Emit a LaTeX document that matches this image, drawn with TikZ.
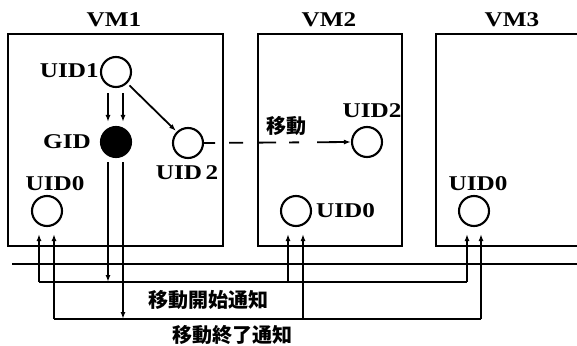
\documentclass[tikz,border=0pt]{standalone}
\usepackage{fontspec}
\setmainfont{Liberation Serif}
\newfontfamily\labfont[FakeStretch=1.2]{Liberation Serif Bold}
\newfontfamily\cjk{Noto Sans CJK JP}
\usetikzlibrary{arrows.meta,calc}
\begin{document}
\begin{tikzpicture}[x=1pt,y=-1pt,
  vmbox/.style={line width=2pt},
  ring/.style={circle, draw, line width=2.1pt, minimum size=30pt, inner sep=0pt},
  dot/.style={ring, fill=black},
  lab/.style={font=\labfont\fontsize{21}{24}\selectfont, inner sep=0pt},
  jp/.style={font=\cjk\bfseries\fontsize{20}{22}\selectfont, inner sep=0pt},
  arr/.style={-{Latex[length=7pt,width=5pt]}, line width=1.8pt},
  wire/.style={line width=1.8pt}]
\useasboundingbox (0,0) rectangle (577,345);

% boxes
\draw[vmbox] (8,34) rectangle (223,246);
\draw[vmbox] (258,34) rectangle (402,246);
\draw[vmbox] (577,34) -- (436,34) -- (436,246) -- (577,246);

% titles
\node[lab] (t1) at (114,20) {VM1};
\node[lab] (t2) at (329,20) {VM2};
\node[lab] (t3) at (512,20) {VM3};

% VM1
\node[ring] (u1) at (116,72) {};
\node[lab, anchor=east] (u1l) at (99,71) {UID1};
\node[dot] (gid) at (116,142) {};
\node[lab] (gidl) at (67,142) {GID};
\node[ring] (u2a) at (188,143) {};
\node[lab] (u2al) at (187,173) {UID\,2};
\node[ring] (u0a) at (47,211) {};
\node[lab] (u0al) at (55,184) {UID0};

% VM2
\node[ring] (u2b) at (367,142) {};
\node[lab] (u2bl) at (372,111) {UID2};
\node[jp] (mv) at (286,126) {移動};
\node[ring] (u0b) at (296,211) {};
\node[lab, anchor=west] (u0bl) at (316,211) {UID0};

% VM3
\node[ring] (u0c) at (474,211) {};
\node[lab] (u0cl) at (478,184) {UID0};

% arrows in VM1
\draw[arr] ($(u1.south)+(-8,5)$) -- ($(gid.north)+(-8,-4)$);
\draw[arr] ($(u1.south)+(7,5)$) -- ($(gid.north)+(7,-4)$);
\draw[arr, shorten <=3pt, shorten >=1pt] (u1.south east) -- (u2a.north west);

% migration
\draw[arr, dash pattern=on 11pt off 14pt on 14pt off 16pt on 17pt off 13pt on 10pt off 18pt on 60pt]
  (u2a.east) -- (u2b.west);

% separator
\coordinate (sepL) at (12,264);
\coordinate (sepR) at (577,264);
\draw[wire] (sepL) -- (sepR);

% start notification bus
\coordinate (sA) at (39,282);
\coordinate (sG) at (108,282);
\coordinate (sB) at (288,282);
\coordinate (sC) at (467,282);
\draw[wire] (sA) -- (sC);
\draw[arr] ($(gid.south)+(-8,4)$) -- (sG);
\draw[arr] (sA) -- ($(u0a.south)+(-8,7)$);
\draw[arr] (sB) -- ($(u0b.south)+(-8,7)$);
\draw[arr] (sC) -- ($(u0c.south)+(-7,7)$);

% end notification bus
\coordinate (eA) at (54,319);
\coordinate (eG) at (123,319);
\coordinate (eB) at (303,319);
\coordinate (eC) at (481,319);
\draw[wire] (eA) -- (eC);
\draw[arr] ($(gid.south)+(7,4)$) -- (eG);
\draw[arr] (eA) -- ($(u0a.south)+(7,7)$);
\draw[arr] (eB) -- ($(u0b.south)+(7,7)$);
\draw[arr] (eC) -- ($(u0c.south)+(7,7)$);

\node[jp] (startl) at (208,300) {移動開始通知};
\node[jp] (endl) at (232,335) {移動終了通知};
\end{tikzpicture}
\end{document}
